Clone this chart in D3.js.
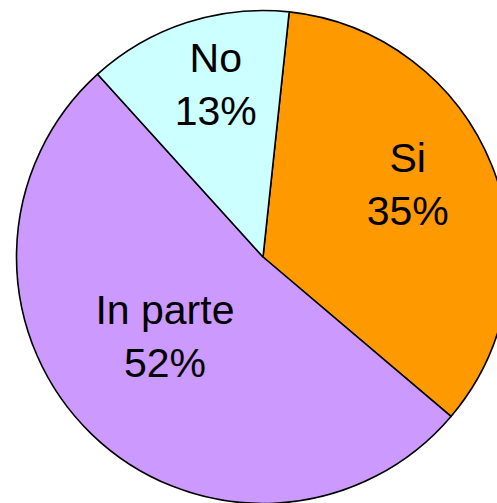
<html>
  <head>
    <title>Pie</title>
    <script src="https://d3js.org/d3.v7.min.js"></script>
    <style>
      body { margin: 0; background: #fff; }
      svg { display: block; }
      text { font-family: "Liberation Sans", Arial, sans-serif; fill: #000; }
    </style>
  </head>
  <body>
    <div class="chart"></div>
  <script>
  // data
  var categories = ["Si", "In parte", "No"];
  var values = [34.5, 52.1, 13.4];
  var colors = ["#FF9900", "#CC99FF", "#CCFFFF"];

  var width = 497,
      height = 503;

  var cx = 263, cy = 257, radius = 246.5;
  var firstAngle = 6.1 * Math.PI / 180;

  // label placement (radius, angle in degrees) per slice
  var labelPlace = {
    "Si": [162, 63.3],
    "In parte": [126, 231.1],
    "No": [179, -15.3]
  };

  var svg = d3.select(".chart")
    .append("svg")
    .attr("width", width)
    .attr("height", height);

  var g = svg.append("g")
    .attr("transform", "translate(" + cx + "," + cy + ")");

  var pie = d3.pie()
    .sort(null)
    .startAngle(firstAngle)
    .endAngle(firstAngle + 2 * Math.PI)
    .value(function (d, i) { return values[i]; });

  var arc = d3.arc()
    .innerRadius(0)
    .outerRadius(radius);

  var arcs = pie(categories);

  g.selectAll("path")
    .data(arcs)
    .enter()
    .append("path")
    .attr("d", arc)
    .attr("fill", function (d, i) { return colors[i]; })
    .attr("stroke", "#000")
    .attr("stroke-width", 1.6)
    .attr("stroke-linejoin", "round");

  var labels = g.selectAll(".lbl")
    .data(arcs)
    .enter()
    .append("text")
    .attr("class", "lbl")
    .attr("text-anchor", "middle")
    .attr("font-size", "41px")
    .attr("transform", function (d) {
      var p = labelPlace[d.data];
      var a = p[1] * Math.PI / 180;
      return "translate(" + (p[0] * Math.sin(a)) + "," + (-p[0] * Math.cos(a)) + ")";
    });

  labels.append("tspan")
    .attr("x", 0)
    .attr("y", -12)
    .text(function (d) { return d.data; });

  labels.append("tspan")
    .attr("x", 0)
    .attr("y", 41)
    .text(function (d, i) { return Math.round(values[i]) + "%"; });
  </script>
  </body>
</html>
